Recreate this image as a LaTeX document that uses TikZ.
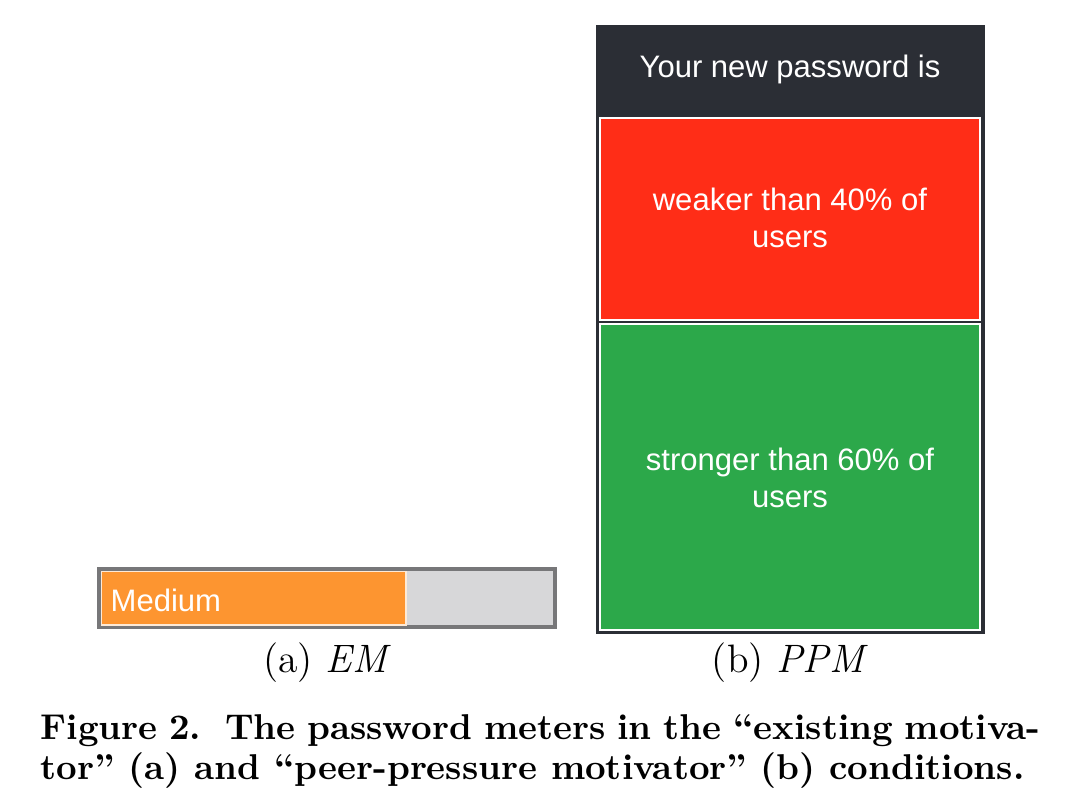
\documentclass[tikz,border=0pt]{standalone}
\usepackage{fontspec}
\newfontfamily\uisans{Liberation Sans}
\definecolor{emborder}{HTML}{777779}
\definecolor{emgray}{HTML}{D7D7D9}
\definecolor{emorange}{HTML}{FD9530}
\definecolor{ppmdark}{HTML}{2B2E35}
\definecolor{ppmred}{HTML}{FF2D17}
\definecolor{ppmgreen}{HTML}{2CA84A}
\tikzset{
  uitext/.style={text=white, font=\uisans\fontsize{9}{10.5}\selectfont, align=center},
  sublabel/.style={font=\fontsize{11.5}{13}\selectfont, anchor=base},
  panel/.style={draw=white, line width=0.6pt},
}
\begin{document}
\begin{tikzpicture}[x=0.29pt,y=-0.29pt]
\useasboundingbox (0,0) rectangle (1086,798);
% EM meter
\draw[emborder, line width=0.9pt, fill=emgray] (99,569) rectangle (555,627);
\fill[emorange] (101.5,571.5) rectangle (406,625);
\draw[white!80!emorange, line width=0.3pt] (101.5,571.5) rectangle (406,625);
\node[uitext, anchor=west, inner sep=0pt] (medium) at (110,600) {Medium};
% PPM meter
\fill[ppmdark] (596,25) rectangle (985,634);
\node[uitext] (header) at (790,69) {Your new password is};
\draw[panel, fill=ppmred] (600,118) rectangle (980,320);
\node[uitext] (weak) at (790,218) {weaker than 40\% of\\users};
\draw[panel, fill=ppmgreen] (600,324) rectangle (980,630);
\node[uitext] (strong) at (790,478) {stronger than 60\% of\\users};
% sub labels
\node[sublabel] (la) at (327,672) {(a) \textit{EM}};
\node[sublabel] (lb) at (790,672) {(b) \textit{PPM}};
% caption
\node[anchor=north west, inner sep=0pt, text width=1000*0.29pt, align=justify,
      font=\bfseries\fontsize{10.4}{11.6}\selectfont] (cap) at (40,714)
  {Figure 2.\ \ The password meters in the “existing motiva-\linebreak
   tor” (a) and “peer-pressure motivator” (b) conditions.};
\end{tikzpicture}
\end{document}
